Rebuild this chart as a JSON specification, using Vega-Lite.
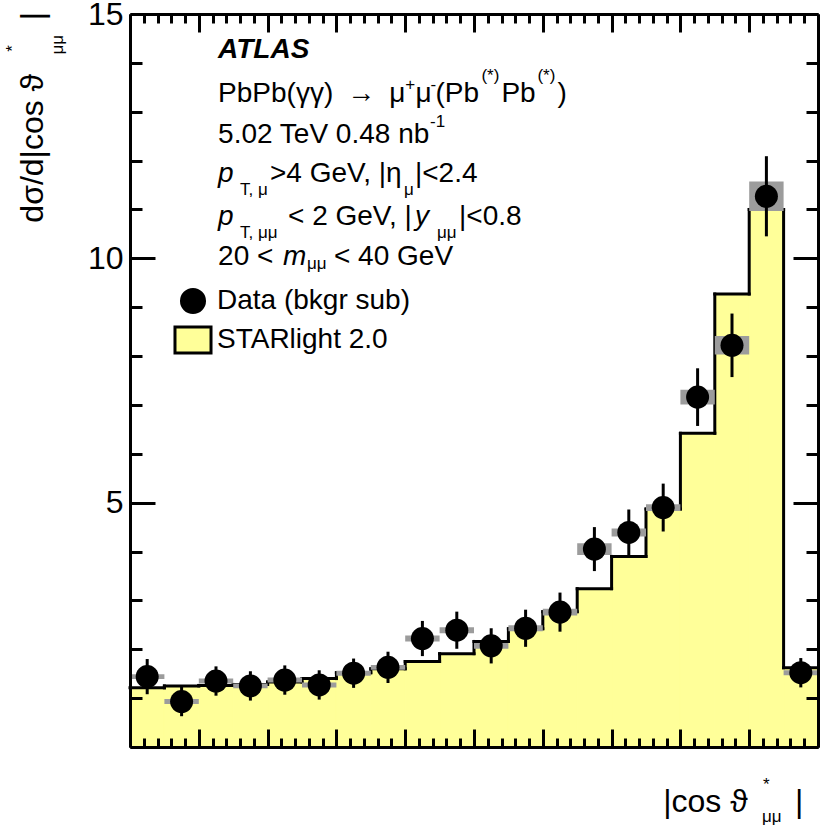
{
  "$schema": "https://vega.github.io/schema/vega-lite/v6.json",
  "width": 688,
  "height": 733,
  "autosize": "none",
  "padding": {"left": 130, "top": 14, "right": 4, "bottom": 84},
  "background": "white",
  "data": {
    "values": [
      {"bin_lo": 0.00, "bin_hi": 0.05, "bin_c": 0.025, "starlight": 1.21, "data": 1.44, "stat_lo": 1.08, "stat_hi": 1.80, "sys_lo": 1.39, "sys_hi": 1.49},
      {"bin_lo": 0.05, "bin_hi": 0.10, "bin_c": 0.075, "starlight": 1.25, "data": 0.93, "stat_lo": 0.63, "stat_hi": 1.23, "sys_lo": 0.88, "sys_hi": 0.98},
      {"bin_lo": 0.10, "bin_hi": 0.15, "bin_c": 0.125, "starlight": 1.26, "data": 1.35, "stat_lo": 1.05, "stat_hi": 1.65, "sys_lo": 1.30, "sys_hi": 1.40},
      {"bin_lo": 0.15, "bin_hi": 0.20, "bin_c": 0.175, "starlight": 1.28, "data": 1.25, "stat_lo": 0.95, "stat_hi": 1.55, "sys_lo": 1.20, "sys_hi": 1.30},
      {"bin_lo": 0.20, "bin_hi": 0.25, "bin_c": 0.225, "starlight": 1.33, "data": 1.37, "stat_lo": 1.07, "stat_hi": 1.67, "sys_lo": 1.32, "sys_hi": 1.42},
      {"bin_lo": 0.25, "bin_hi": 0.30, "bin_c": 0.275, "starlight": 1.40, "data": 1.27, "stat_lo": 0.97, "stat_hi": 1.57, "sys_lo": 1.22, "sys_hi": 1.32},
      {"bin_lo": 0.30, "bin_hi": 0.35, "bin_c": 0.325, "starlight": 1.52, "data": 1.51, "stat_lo": 1.21, "stat_hi": 1.81, "sys_lo": 1.46, "sys_hi": 1.56},
      {"bin_lo": 0.35, "bin_hi": 0.40, "bin_c": 0.375, "starlight": 1.60, "data": 1.63, "stat_lo": 1.31, "stat_hi": 1.95, "sys_lo": 1.58, "sys_hi": 1.68},
      {"bin_lo": 0.40, "bin_hi": 0.45, "bin_c": 0.425, "starlight": 1.75, "data": 2.22, "stat_lo": 1.86, "stat_hi": 2.58, "sys_lo": 2.16, "sys_hi": 2.28},
      {"bin_lo": 0.45, "bin_hi": 0.50, "bin_c": 0.475, "starlight": 1.91, "data": 2.39, "stat_lo": 2.01, "stat_hi": 2.77, "sys_lo": 2.33, "sys_hi": 2.45},
      {"bin_lo": 0.50, "bin_hi": 0.55, "bin_c": 0.525, "starlight": 2.16, "data": 2.07, "stat_lo": 1.71, "stat_hi": 2.43, "sys_lo": 2.01, "sys_hi": 2.13},
      {"bin_lo": 0.55, "bin_hi": 0.60, "bin_c": 0.575, "starlight": 2.42, "data": 2.43, "stat_lo": 2.05, "stat_hi": 2.81, "sys_lo": 2.37, "sys_hi": 2.49},
      {"bin_lo": 0.60, "bin_hi": 0.65, "bin_c": 0.625, "starlight": 2.77, "data": 2.76, "stat_lo": 2.36, "stat_hi": 3.16, "sys_lo": 2.69, "sys_hi": 2.83},
      {"bin_lo": 0.65, "bin_hi": 0.70, "bin_c": 0.675, "starlight": 3.24, "data": 4.05, "stat_lo": 3.60, "stat_hi": 4.50, "sys_lo": 3.93, "sys_hi": 4.17},
      {"bin_lo": 0.70, "bin_hi": 0.75, "bin_c": 0.725, "starlight": 3.90, "data": 4.39, "stat_lo": 3.92, "stat_hi": 4.86, "sys_lo": 4.31, "sys_hi": 4.47},
      {"bin_lo": 0.75, "bin_hi": 0.80, "bin_c": 0.775, "starlight": 4.87, "data": 4.90, "stat_lo": 4.41, "stat_hi": 5.39, "sys_lo": 4.83, "sys_hi": 4.97},
      {"bin_lo": 0.80, "bin_hi": 0.85, "bin_c": 0.825, "starlight": 6.42, "data": 7.16, "stat_lo": 6.57, "stat_hi": 7.75, "sys_lo": 7.01, "sys_hi": 7.31},
      {"bin_lo": 0.85, "bin_hi": 0.90, "bin_c": 0.875, "starlight": 9.27, "data": 8.22, "stat_lo": 7.57, "stat_hi": 8.87, "sys_lo": 8.03, "sys_hi": 8.41},
      {"bin_lo": 0.90, "bin_hi": 0.95, "bin_c": 0.925, "starlight": 11.00, "data": 11.27, "stat_lo": 10.45, "stat_hi": 12.09, "sys_lo": 10.97, "sys_hi": 11.57},
      {"bin_lo": 0.95, "bin_hi": 1.00, "bin_c": 0.975, "starlight": 1.62, "data": 1.52, "stat_lo": 1.22, "stat_hi": 1.82, "sys_lo": 1.47, "sys_hi": 1.57}
    ]
  },
  "datasets": {
    "labels": [
      {"kind": "b", "t": "ATLAS", "x": 0.128, "y": 14.10},
      {"kind": "n", "t": "PbPb(γγ)\u2002→\u2002μ", "x": 0.128, "y": 13.19},
      {"kind": "s", "t": "+", "x": 0.4, "y": 13.45},
      {"kind": "n", "t": "μ", "x": 0.4148, "y": 13.19},
      {"kind": "s", "t": "-", "x": 0.4366, "y": 13.45},
      {"kind": "n", "t": "(Pb", "x": 0.4439, "y": 13.19},
      {"kind": "s", "t": "(*)", "x": 0.5108, "y": 13.62},
      {"kind": "n", "t": "Pb", "x": 0.5398, "y": 13.19},
      {"kind": "s", "t": "(*)", "x": 0.5922, "y": 13.62},
      {"kind": "n", "t": ")", "x": 0.6212, "y": 13.19},
      {"kind": "n", "t": "5.02 TeV 0.48 nb", "x": 0.128, "y": 12.35},
      {"kind": "s", "t": "-1", "x": 0.436, "y": 12.68},
      {"kind": "i", "t": "p", "x": 0.128, "y": 11.57},
      {"kind": "s", "t": "T, μ", "x": 0.1599, "y": 11.29},
      {"kind": "n", "t": ">4 GeV, |η", "x": 0.2035, "y": 11.57},
      {"kind": "s", "t": "μ", "x": 0.3983, "y": 11.29},
      {"kind": "n", "t": "|<2.4", "x": 0.4142, "y": 11.57},
      {"kind": "i", "t": "p", "x": 0.128, "y": 10.69},
      {"kind": "s", "t": "T, μμ", "x": 0.1599, "y": 10.42},
      {"kind": "n", "t": "< 2 GeV, |", "x": 0.2297, "y": 10.69},
      {"kind": "i", "t": "y", "x": 0.4142, "y": 10.69},
      {"kind": "s", "t": "μμ", "x": 0.4462, "y": 10.42},
      {"kind": "n", "t": "|<0.8", "x": 0.4782, "y": 10.69},
      {"kind": "n", "t": "20 <", "x": 0.128, "y": 9.86},
      {"kind": "i", "t": "m", "x": 0.2224, "y": 9.86},
      {"kind": "s", "t": "μμ", "x": 0.2573, "y": 9.78},
      {"kind": "n", "t": "< 40 GeV", "x": 0.2965, "y": 9.86},
      {"kind": "t", "t": "|cos ϑ", "x": 0.775, "y": -1.32},
      {"kind": "s", "t": "*", "x": 0.92, "y": -0.89},
      {"kind": "s", "t": "μμ", "x": 0.9186, "y": -1.545},
      {"kind": "t", "t": "|", "x": 0.9666, "y": -1.32},
      {"kind": "r", "t": "dσ/d|cos ϑ", "x": -0.1265, "y": 10.73},
      {"kind": "r", "t": "|", "x": -0.1265, "y": 14.87},
      {"kind": "rs", "t": "*", "x": -0.163, "y": 14.23},
      {"kind": "rs", "t": "μμ", "x": -0.0974, "y": 14.17}
    ]
  },
  "layer": [
    {
      "mark": {"type": "rect", "color": "#ffff99", "stroke": "#ffff99", "strokeWidth": 1},
      "encoding": {
        "x": {
          "field": "bin_lo", "type": "quantitative",
          "scale": {"domain": [0, 1], "nice": false},
          "axis": {"orient": "bottom", "zindex": 1, "values": [0, 0.1, 0.2, 0.3, 0.4, 0.5, 0.6, 0.7, 0.8, 0.9, 1], "tickSize": -18, "tickWidth": 3, "tickColor": "black", "labels": false, "domain": true, "domainWidth": 3, "domainColor": "black", "grid": false, "title": null}
        },
        "x2": {"field": "bin_hi"},
        "y": {
          "field": "starlight", "type": "quantitative",
          "scale": {"domain": [0, 15], "nice": false},
          "axis": {"orient": "left", "zindex": 1, "values": [0, 5, 10, 15], "tickSize": -25, "tickWidth": 3, "tickColor": "black", "labelFontSize": 32, "labelFont": "Liberation Sans", "labelColor": "black", "labelPadding": 32, "labelExpr": "datum.value == 0 ? '' : datum.label", "domain": true, "domainWidth": 3, "domainColor": "black", "grid": false, "title": null}
        },
        "y2": {"datum": 0}
      }
    },
    {
      "mark": {"type": "rule", "strokeWidth": 3, "color": "black", "strokeCap": "square"},
      "encoding": {
        "x": {
          "field": "bin_lo", "type": "quantitative",
          "axis": {"orient": "bottom", "zindex": 1, "values": [0.02, 0.04, 0.06, 0.08, 0.12, 0.14, 0.16, 0.18, 0.22, 0.24, 0.26, 0.28, 0.32, 0.34, 0.36, 0.38, 0.42, 0.44, 0.46, 0.48, 0.52, 0.54, 0.56, 0.58, 0.62, 0.64, 0.66, 0.68, 0.72, 0.74, 0.76, 0.78, 0.82, 0.84, 0.86, 0.88, 0.92, 0.94, 0.96, 0.98], "tickSize": -9, "tickWidth": 3, "tickColor": "black", "labels": false, "domain": false, "grid": false, "title": null}
        },
        "x2": {"field": "bin_hi"},
        "y": {
          "field": "starlight", "type": "quantitative",
          "axis": {"orient": "left", "zindex": 1, "values": [1, 2, 3, 4, 6, 7, 8, 9, 11, 12, 13, 14], "tickSize": -12, "tickWidth": 3, "tickColor": "black", "labels": false, "domain": false, "grid": false, "title": null}
        }
      }
    },
    {
      "transform": [
        {"window": [{"op": "lag", "field": "starlight", "as": "prev"}], "sort": [{"field": "bin_lo", "order": "ascending"}]},
        {"filter": "datum.prev != null"}
      ],
      "mark": {"type": "rule", "strokeWidth": 3, "color": "black", "strokeCap": "square"},
      "encoding": {
        "x": {
          "field": "bin_lo", "type": "quantitative",
          "axis": {"orient": "top", "zindex": 1, "values": [0, 0.1, 0.2, 0.3, 0.4, 0.5, 0.6, 0.7, 0.8, 0.9, 1], "tickSize": -18, "tickWidth": 3, "tickColor": "black", "labels": false, "domain": true, "domainWidth": 3, "domainColor": "black", "grid": false, "title": null}
        },
        "y": {
          "field": "prev", "type": "quantitative",
          "axis": {"orient": "right", "zindex": 1, "values": [0, 5, 10, 15], "tickSize": -25, "tickWidth": 3, "tickColor": "black", "labels": false, "domain": true, "domainWidth": 3, "domainColor": "black", "grid": false, "title": null}
        },
        "y2": {"field": "starlight"}
      }
    },
    {
      "mark": {"type": "rect", "color": "#9c9c9c"},
      "encoding": {
        "x": {
          "field": "bin_lo", "type": "quantitative",
          "axis": {"orient": "top", "zindex": 1, "values": [0.02, 0.04, 0.06, 0.08, 0.12, 0.14, 0.16, 0.18, 0.22, 0.24, 0.26, 0.28, 0.32, 0.34, 0.36, 0.38, 0.42, 0.44, 0.46, 0.48, 0.52, 0.54, 0.56, 0.58, 0.62, 0.64, 0.66, 0.68, 0.72, 0.74, 0.76, 0.78, 0.82, 0.84, 0.86, 0.88, 0.92, 0.94, 0.96, 0.98], "tickSize": -9, "tickWidth": 3, "tickColor": "black", "labels": false, "domain": false, "grid": false, "title": null}
        },
        "x2": {"field": "bin_hi"},
        "y": {
          "field": "sys_lo", "type": "quantitative",
          "axis": {"orient": "right", "zindex": 1, "values": [1, 2, 3, 4, 6, 7, 8, 9, 11, 12, 13, 14], "tickSize": -12, "tickWidth": 3, "tickColor": "black", "labels": false, "domain": false, "grid": false, "title": null}
        },
        "y2": {"field": "sys_hi"}
      }
    },
    {
      "mark": {"type": "rule", "strokeWidth": 3, "color": "black"},
      "encoding": {
        "x": {"field": "bin_c", "type": "quantitative", "axis": null},
        "y": {"field": "stat_lo", "type": "quantitative", "axis": null},
        "y2": {"field": "stat_hi"}
      }
    },
    {
      "mark": {"type": "point", "filled": true, "opacity": 1, "size": 530},
      "encoding": {
        "x": {"field": "bin_c", "type": "quantitative", "axis": null},
        "y": {"field": "data", "type": "quantitative", "axis": null},
        "fill": {
          "datum": "Data (bkgr sub)", "type": "nominal",
          "scale": {"domain": ["Data (bkgr sub)", "STARlight 2.0"], "range": ["black", "#ffff99"]},
          "legend": {"orient": "none", "legendX": 49, "legendY": 273, "title": null, "padding": 0, "labelFontSize": 28, "labelFont": "Liberation Sans", "labelColor": "black", "labelLimit": 0, "labelOffset": 10, "rowPadding": 1, "symbolSize": 530, "symbolOpacity": 1,
            "encode": {"symbols": {"update": {"stroke": {"value": "black"}, "strokeWidth": {"value": 3}, "opacity": {"value": 1}}}}}
        },
        "shape": {
          "datum": "Data (bkgr sub)", "type": "nominal",
          "scale": {"domain": ["Data (bkgr sub)", "STARlight 2.0"], "range": ["circle", "M-1.565,-1.13H1.565V1.13H-1.565Z"]},
          "legend": {"orient": "none", "legendX": 49, "legendY": 273, "title": null, "padding": 0, "labelFontSize": 28, "labelFont": "Liberation Sans", "labelColor": "black", "labelLimit": 0, "labelOffset": 10, "rowPadding": 1, "symbolSize": 530, "symbolOpacity": 1,
            "encode": {"symbols": {"update": {"stroke": {"value": "black"}, "strokeWidth": {"value": 3}, "opacity": {"value": 1}}}}}
        }
      }
    },
    {
      "data": {"name": "labels"},
      "transform": [{"filter": "datum.kind == 'n'"}],
      "mark": {"type": "text", "font": "Liberation Sans", "fontSize": 28, "align": "left", "baseline": "alphabetic", "color": "black"},
      "encoding": {
        "x": {"field": "x", "type": "quantitative", "axis": null},
        "y": {"field": "y", "type": "quantitative", "axis": null},
        "text": {"field": "t"}
      }
    },
    {
      "data": {"name": "labels"},
      "transform": [{"filter": "datum.kind == 'i'"}],
      "mark": {"type": "text", "font": "Liberation Sans", "fontSize": 28, "fontStyle": "italic", "align": "left", "baseline": "alphabetic", "color": "black"},
      "encoding": {
        "x": {"field": "x", "type": "quantitative", "axis": null},
        "y": {"field": "y", "type": "quantitative", "axis": null},
        "text": {"field": "t"}
      }
    },
    {
      "data": {"name": "labels"},
      "transform": [{"filter": "datum.kind == 'b'"}],
      "mark": {"type": "text", "font": "Liberation Sans", "fontSize": 28, "fontStyle": "italic", "fontWeight": "bold", "align": "left", "baseline": "alphabetic", "color": "black"},
      "encoding": {
        "x": {"field": "x", "type": "quantitative", "axis": null},
        "y": {"field": "y", "type": "quantitative", "axis": null},
        "text": {"field": "t"}
      }
    },
    {
      "data": {"name": "labels"},
      "transform": [{"filter": "datum.kind == 's'"}],
      "mark": {"type": "text", "font": "Liberation Sans", "fontSize": 17, "align": "left", "baseline": "alphabetic", "color": "black"},
      "encoding": {
        "x": {"field": "x", "type": "quantitative", "axis": null},
        "y": {"field": "y", "type": "quantitative", "axis": null},
        "text": {"field": "t"}
      }
    },
    {
      "data": {"name": "labels"},
      "transform": [{"filter": "datum.kind == 't'"}],
      "mark": {"type": "text", "font": "Liberation Sans", "fontSize": 32, "align": "left", "baseline": "alphabetic", "color": "black"},
      "encoding": {
        "x": {"field": "x", "type": "quantitative", "axis": null},
        "y": {"field": "y", "type": "quantitative", "axis": null},
        "text": {"field": "t"}
      }
    },
    {
      "data": {"name": "labels"},
      "transform": [{"filter": "datum.kind == 'r'"}],
      "mark": {"type": "text", "font": "Liberation Sans", "fontSize": 32, "angle": 270, "align": "left", "baseline": "alphabetic", "color": "black"},
      "encoding": {
        "x": {"field": "x", "type": "quantitative", "axis": null},
        "y": {"field": "y", "type": "quantitative", "axis": null},
        "text": {"field": "t"}
      }
    },
    {
      "data": {"name": "labels"},
      "transform": [{"filter": "datum.kind == 'rs'"}],
      "mark": {"type": "text", "font": "Liberation Sans", "fontSize": 17, "angle": 270, "align": "left", "baseline": "alphabetic", "color": "black"},
      "encoding": {
        "x": {"field": "x", "type": "quantitative", "axis": null},
        "y": {"field": "y", "type": "quantitative", "axis": null},
        "text": {"field": "t"}
      }
    }
  ],
  "resolve": {"axis": {"x": "independent", "y": "independent"}},
  "config": {"view": {"stroke": null}}
}
